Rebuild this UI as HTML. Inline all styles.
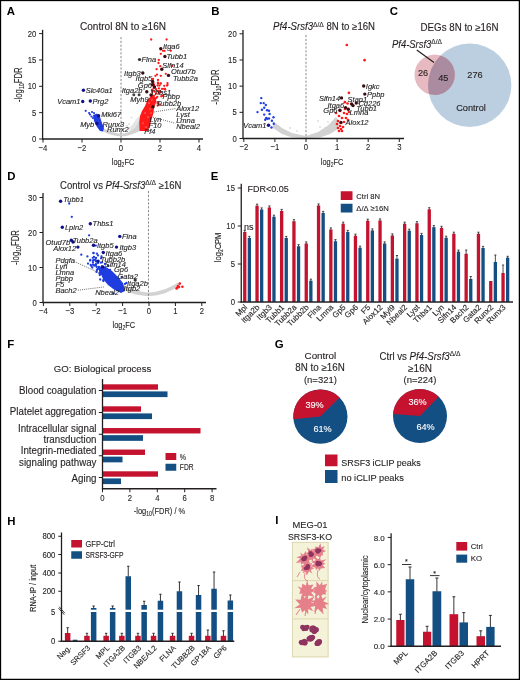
<!DOCTYPE html><html><head><meta charset="utf-8"><style>html,body{margin:0;padding:0;background:#fff;width:520px;height:680px;overflow:hidden}svg{display:block;will-change:transform;font-family:"Liberation Sans",sans-serif}text{stroke:#231f20;stroke-width:0.12px}text[fill="#fff"]{stroke:#fff}text[fill="#000"]{stroke:none}</style></head><body><svg width="520" height="680" viewBox="0 0 520 680" font-family="Liberation Sans, sans-serif" fill="#231f20"><rect x="0.5" y="0.5" width="518.9" height="678.9" fill="none" stroke="#000" stroke-width="1.3"/>
<text x="6.8" y="15.1" font-size="11.4" font-weight="bold" fill="#000">A</text>
<polygon points="125,131 132,125 137,118 140,116 140,126 134,130" fill="#e6e6e6"/>
<path d="M102,128 C108,130.5 114,133 121,133.8 C126,133.5 131,131 135,127.7 C137,125.5 139,121 140,118 L139.8,131 C136,133 133,134 131,134.4 C127,135.8 124,136.3 121,136.4 C116,136.2 112,135.2 110,134.3 C106,133 104,132 101.7,131 Z" fill="#d2d2d2"/>
<circle cx="131.5" cy="117.4" r="0.9" fill="#dadada"/>
<circle cx="127" cy="126" r="0.9" fill="#dadada"/>
<circle cx="129" cy="124" r="0.9" fill="#dadada"/>
<circle cx="116" cy="128" r="0.9" fill="#dadada"/>
<polygon points="139.5,131 139.3,122 140,116 142,111 145,106 147,101 150,97 153,95 156,98 155.5,104 154,108 153.5,113 152,118 150,125 148,131" fill="#ff1a1a"/>
<circle cx="149" cy="103" r="0.6" fill="#ffd0d0"/>
<circle cx="152" cy="100" r="0.6" fill="#ffd0d0"/>
<circle cx="150" cy="109" r="0.6" fill="#ffd0d0"/>
<circle cx="145" cy="113" r="0.6" fill="#ffd0d0"/>
<circle cx="148" cy="117" r="0.6" fill="#ffd0d0"/>
<circle cx="143" cy="123" r="0.6" fill="#ffd0d0"/>
<circle cx="146" cy="127" r="0.6" fill="#ffd0d0"/>
<circle cx="151" cy="113" r="0.6" fill="#ffd0d0"/>
<circle cx="153.12" cy="85.62" r="1.15" fill="#ff1a1a"/>
<circle cx="160.32" cy="83.74" r="1.15" fill="#ff1a1a"/>
<circle cx="157.79" cy="90.78" r="1.15" fill="#ff1a1a"/>
<circle cx="155.34" cy="101.84" r="1.15" fill="#ff1a1a"/>
<circle cx="159.8" cy="104.75" r="1.15" fill="#ff1a1a"/>
<circle cx="158.7" cy="91.52" r="1.15" fill="#ff1a1a"/>
<circle cx="167.48" cy="83.12" r="1.15" fill="#ff1a1a"/>
<circle cx="164.89" cy="88.95" r="1.15" fill="#ff1a1a"/>
<circle cx="152.79" cy="101.59" r="1.15" fill="#ff1a1a"/>
<circle cx="160.06" cy="90.94" r="1.15" fill="#ff1a1a"/>
<circle cx="158.05" cy="83.51" r="1.15" fill="#ff1a1a"/>
<circle cx="160.97" cy="92.26" r="1.15" fill="#ff1a1a"/>
<circle cx="152.91" cy="96.05" r="1.15" fill="#ff1a1a"/>
<circle cx="155.97" cy="89.19" r="1.15" fill="#ff1a1a"/>
<circle cx="151.37" cy="95.79" r="1.15" fill="#ff1a1a"/>
<circle cx="157.55" cy="103" r="1.15" fill="#ff1a1a"/>
<circle cx="162.05" cy="88.91" r="1.15" fill="#ff1a1a"/>
<circle cx="167.56" cy="84.83" r="1.15" fill="#ff1a1a"/>
<circle cx="155.2" cy="100.17" r="1.15" fill="#ff1a1a"/>
<circle cx="162.82" cy="95.75" r="1.15" fill="#ff1a1a"/>
<circle cx="165.26" cy="89.53" r="1.15" fill="#ff1a1a"/>
<circle cx="161.3" cy="96.26" r="1.15" fill="#ff1a1a"/>
<circle cx="158.76" cy="92.95" r="1.15" fill="#ff1a1a"/>
<circle cx="156.43" cy="97.94" r="1.15" fill="#ff1a1a"/>
<circle cx="164.08" cy="88.83" r="1.15" fill="#ff1a1a"/>
<circle cx="154.49" cy="98.05" r="1.15" fill="#ff1a1a"/>
<circle cx="154.6" cy="102.91" r="1.15" fill="#ff1a1a"/>
<circle cx="158.09" cy="103.2" r="1.15" fill="#ff1a1a"/>
<circle cx="152.13" cy="91.97" r="1.15" fill="#ff1a1a"/>
<circle cx="153.89" cy="103.22" r="1.15" fill="#ff1a1a"/>
<circle cx="167.07" cy="85.62" r="1.15" fill="#ff1a1a"/>
<circle cx="158.96" cy="88.31" r="1.15" fill="#ff1a1a"/>
<circle cx="154.12" cy="95.59" r="1.15" fill="#ff1a1a"/>
<circle cx="157.34" cy="96.82" r="1.15" fill="#ff1a1a"/>
<circle cx="160.88" cy="83.3" r="1.15" fill="#ff1a1a"/>
<circle cx="154.63" cy="91.58" r="1.15" fill="#ff1a1a"/>
<circle cx="153.48" cy="83.26" r="1.15" fill="#ff1a1a"/>
<circle cx="159.51" cy="85.57" r="1.15" fill="#ff1a1a"/>
<circle cx="154.01" cy="84.95" r="1.15" fill="#ff1a1a"/>
<circle cx="156.25" cy="93.61" r="1.15" fill="#ff1a1a"/>
<circle cx="153.54" cy="88.35" r="1.15" fill="#ff1a1a"/>
<circle cx="164.23" cy="85.87" r="1.15" fill="#ff1a1a"/>
<circle cx="157.62" cy="85.52" r="1.15" fill="#ff1a1a"/>
<circle cx="157.95" cy="82.65" r="1.15" fill="#ff1a1a"/>
<circle cx="157.62" cy="105.48" r="1.15" fill="#ff1a1a"/>
<circle cx="151.2" cy="39.5" r="1.15" fill="#ff1a1a"/>
<circle cx="166.6" cy="39.5" r="1.15" fill="#ff1a1a"/>
<circle cx="160.8" cy="53.8" r="1.15" fill="#ff1a1a"/>
<circle cx="163" cy="50.8" r="1.15" fill="#ff1a1a"/>
<circle cx="164.6" cy="50.8" r="1.15" fill="#ff1a1a"/>
<circle cx="170.8" cy="50.8" r="1.15" fill="#ff1a1a"/>
<circle cx="158.8" cy="60" r="1.15" fill="#ff1a1a"/>
<circle cx="158.5" cy="63" r="1.15" fill="#ff1a1a"/>
<circle cx="160.3" cy="66.2" r="1.15" fill="#ff1a1a"/>
<circle cx="156.6" cy="69.2" r="1.15" fill="#ff1a1a"/>
<circle cx="172.3" cy="65.8" r="1.15" fill="#ff1a1a"/>
<circle cx="165.8" cy="73.8" r="1.15" fill="#ff1a1a"/>
<circle cx="157" cy="74.6" r="1.15" fill="#ff1a1a"/>
<circle cx="160.8" cy="75.8" r="1.15" fill="#ff1a1a"/>
<circle cx="155.4" cy="75.8" r="1.15" fill="#ff1a1a"/>
<circle cx="158" cy="80" r="1.15" fill="#ff1a1a"/>
<circle cx="153" cy="79" r="1.15" fill="#ff1a1a"/>
<circle cx="152" cy="85" r="1.15" fill="#ff1a1a"/>
<circle cx="152" cy="90" r="1.15" fill="#ff1a1a"/>
<polygon points="93,115 97,113.5 100,117 102,123 104,128 103,131.5 100,131 97,127 94,121" fill="#1f3de0"/>
<circle cx="85.7" cy="110.8" r="1.1" fill="#1f3de0"/>
<circle cx="89.1" cy="113" r="1.1" fill="#1f3de0"/>
<circle cx="90" cy="114.5" r="1.1" fill="#1f3de0"/>
<circle cx="92" cy="112" r="1.1" fill="#1f3de0"/>
<circle cx="91.5" cy="116.5" r="1.1" fill="#1f3de0"/>
<circle cx="94" cy="113" r="1.1" fill="#1f3de0"/>
<circle cx="93" cy="118" r="1.1" fill="#1f3de0"/>
<circle cx="160.8" cy="48.8" r="1.7" fill="#3b0d12"/>
<circle cx="164.9" cy="56.5" r="1.7" fill="#3b0d12"/>
<circle cx="161.8" cy="69.2" r="1.7" fill="#3b0d12"/>
<circle cx="168.5" cy="75.4" r="1.7" fill="#3b0d12"/>
<circle cx="142.8" cy="73" r="1.7" fill="#3b0d12"/>
<circle cx="152.6" cy="81.5" r="1.7" fill="#3b0d12"/>
<circle cx="152.6" cy="84.6" r="1.7" fill="#3b0d12"/>
<circle cx="146.8" cy="91.8" r="1.7" fill="#3b0d12"/>
<circle cx="153" cy="106.7" r="1.7" fill="#3b0d12"/>
<circle cx="154.5" cy="87" r="1.7" fill="#3b0d12"/>
<circle cx="151" cy="95" r="1.7" fill="#3b0d12"/>
<circle cx="139.5" cy="59.5" r="1.6" fill="#333"/>
<circle cx="133.8" cy="94.7" r="1.5" fill="#444"/>
<circle cx="139.1" cy="94.7" r="1.5" fill="#444"/>
<circle cx="83.4" cy="90.2" r="1.7" fill="#10108a"/>
<circle cx="82.7" cy="101.5" r="1.7" fill="#10108a"/>
<circle cx="90.3" cy="101" r="1.7" fill="#10108a"/>
<circle cx="98.6" cy="115.7" r="1.7" fill="#10108a"/>
<circle cx="96.9" cy="123.5" r="1.7" fill="#10108a"/>
<line x1="121" y1="37" x2="121" y2="139" stroke="#8a8a8a" stroke-width="1" stroke-dasharray="2.2,1.6"/>
<line x1="42.6" y1="29.8" x2="42.6" y2="139.6" stroke="#231f20" stroke-width="1.3"/>
<line x1="42" y1="139" x2="203" y2="139" stroke="#231f20" stroke-width="1.3"/>
<line x1="39.1" y1="139" x2="42.6" y2="139" stroke="#231f20" stroke-width="1"/>
<text x="36.3" y="142.15" font-size="9.2" text-anchor="end" textLength="4.3" lengthAdjust="spacingAndGlyphs">0</text>
<line x1="39.1" y1="112.65" x2="42.6" y2="112.65" stroke="#231f20" stroke-width="1"/>
<text x="36.3" y="115.8" font-size="9.2" text-anchor="end" textLength="4.3" lengthAdjust="spacingAndGlyphs">5</text>
<line x1="39.1" y1="86.3" x2="42.6" y2="86.3" stroke="#231f20" stroke-width="1"/>
<text x="36.3" y="89.45" font-size="9.2" text-anchor="end" textLength="8.6" lengthAdjust="spacingAndGlyphs">10</text>
<line x1="39.1" y1="59.95" x2="42.6" y2="59.95" stroke="#231f20" stroke-width="1"/>
<text x="36.3" y="63.1" font-size="9.2" text-anchor="end" textLength="8.6" lengthAdjust="spacingAndGlyphs">15</text>
<line x1="39.1" y1="33.6" x2="42.6" y2="33.6" stroke="#231f20" stroke-width="1"/>
<text x="36.3" y="36.75" font-size="9.2" text-anchor="end" textLength="8.6" lengthAdjust="spacingAndGlyphs">20</text>
<line x1="43" y1="139" x2="43" y2="142.5" stroke="#231f20" stroke-width="1"/>
<text x="43" y="150.9" font-size="9.2" text-anchor="middle" textLength="8.81" lengthAdjust="spacingAndGlyphs">−4</text>
<line x1="82" y1="139" x2="82" y2="142.5" stroke="#231f20" stroke-width="1"/>
<text x="82" y="150.9" font-size="9.2" text-anchor="middle" textLength="8.81" lengthAdjust="spacingAndGlyphs">−2</text>
<line x1="121" y1="139" x2="121" y2="142.5" stroke="#231f20" stroke-width="1"/>
<text x="121" y="150.9" font-size="9.2" text-anchor="middle" textLength="4.3" lengthAdjust="spacingAndGlyphs">0</text>
<line x1="160" y1="139" x2="160" y2="142.5" stroke="#231f20" stroke-width="1"/>
<text x="160" y="150.9" font-size="9.2" text-anchor="middle" textLength="4.3" lengthAdjust="spacingAndGlyphs">2</text>
<line x1="199" y1="139" x2="199" y2="142.5" stroke="#231f20" stroke-width="1"/>
<text x="199" y="150.9" font-size="9.2" text-anchor="middle" textLength="4.3" lengthAdjust="spacingAndGlyphs">4</text>
<text x="123" y="30.4" font-size="10" text-anchor="middle" textLength="86" lengthAdjust="spacingAndGlyphs">Control 8N to ≥16N</text>
<text transform="translate(22 84.7) rotate(-90)" font-size="10" text-anchor="middle" textLength="34.5" lengthAdjust="spacingAndGlyphs">-log<tspan font-size="6.8" dy="2">10</tspan><tspan dy="-2">FDR</tspan></text>
<text x="123" y="164.5" font-size="9.6" text-anchor="middle" textLength="22.5" lengthAdjust="spacingAndGlyphs">log<tspan font-size="6.53" dy="2">2</tspan><tspan dy="-2">FC</tspan></text>
<g stroke="#1e1e1e" stroke-width="0.22" fill="#1e1e1e">
<text x="163" y="48.8" font-size="7.5" font-style="italic">Itga6</text>
<text x="166.5" y="59.1" font-size="7.5" font-style="italic">Tubb1</text>
<text x="141.5" y="62.1" font-size="7.5" font-style="italic">Flna</text>
<text x="162.3" y="68.4" font-size="7.5" font-style="italic">Slfn14</text>
<text x="171" y="74.4" font-size="7.5" font-style="italic">Otud7b</text>
<text x="173" y="81.1" font-size="7.5" font-style="italic">Tubb2a</text>
<text x="140.8" y="75.6" font-size="7.5" text-anchor="end" font-style="italic">Itgb3</text>
<text x="152.3" y="80.8" font-size="7.5" text-anchor="end" font-style="italic">Itgb5</text>
<text x="152" y="87.6" font-size="7.5" text-anchor="end" font-style="italic">Gp6</text>
<text x="142.5" y="93.3" font-size="7.5" text-anchor="end" font-style="italic">Itga2b</text>
<text x="150.3" y="94.7" font-size="7.5" font-style="italic">Thbs1</text>
<text x="162.4" y="99.4" font-size="7.5" font-style="italic">Ppbp</text>
<text x="148.6" y="101.6" font-size="7.5" text-anchor="end" font-style="italic">Myh9</text>
<text x="156.3" y="106" font-size="7.5" font-style="italic">Tubb2b</text>
<text x="176.2" y="110.6" font-size="7.5" font-style="italic">Alox12</text>
<text x="176.2" y="116.9" font-size="7.5" font-style="italic">Lyst</text>
<text x="176.2" y="122.9" font-size="7.5" font-style="italic">Lmna</text>
<text x="176.2" y="128.5" font-size="7.5" font-style="italic">Nbeal2</text>
<text x="149.4" y="121.6" font-size="7.5" font-style="italic">Lyn</text>
<text x="148.6" y="127.9" font-size="7.5" font-style="italic">F10</text>
<text x="144.2" y="134.2" font-size="7.5" font-style="italic">Pf4</text>
<text x="85.7" y="92.8" font-size="7.5" font-style="italic">Slc40a1</text>
<text x="80.5" y="104.1" font-size="7.5" text-anchor="end" font-style="italic">Vcam1</text>
<text x="92.6" y="103.6" font-size="7.5" font-style="italic">Prg2</text>
<text x="101.2" y="117.1" font-size="7.5" font-style="italic">Mki67</text>
<text x="94.3" y="126.9" font-size="7.5" text-anchor="end" font-style="italic">Myb</text>
<text x="102.6" y="126.9" font-size="7.5" font-style="italic">Runx3</text>
<text x="107" y="132.1" font-size="7.5" font-style="italic">Runx2</text>
</g>
<line x1="153.7" y1="112" x2="176" y2="108.5" stroke="#444" stroke-width="0.8" stroke-dasharray="1,1.1"/>
<line x1="152.9" y1="117.2" x2="175.4" y2="123.3" stroke="#444" stroke-width="0.8" stroke-dasharray="1,1.1"/>
<text x="211.2" y="15.2" font-size="11.4" font-weight="bold" fill="#000">B</text>
<polygon points="273,121 282,128 292,133 306,136 318,132 328,125.5 336,117 339,121 338,129 330,134 320,137.5 306,138.2 292,137.5 282,134 273,128" fill="#d2d2d2"/>
<circle cx="318" cy="121" r="0.9" fill="#dadada"/>
<circle cx="320" cy="127" r="0.9" fill="#dadada"/>
<circle cx="325" cy="128" r="0.9" fill="#dadada"/>
<circle cx="328" cy="122" r="0.9" fill="#dadada"/>
<circle cx="290" cy="128" r="0.9" fill="#dadada"/>
<circle cx="297" cy="131" r="0.9" fill="#dadada"/>
<circle cx="261.3" cy="98.1" r="1.2" fill="#1f3de0"/>
<circle cx="260.8" cy="103.1" r="1.2" fill="#1f3de0"/>
<circle cx="263.7" cy="103.1" r="1.2" fill="#1f3de0"/>
<circle cx="265.8" cy="105" r="1.2" fill="#1f3de0"/>
<circle cx="264.2" cy="107.7" r="1.2" fill="#1f3de0"/>
<circle cx="261.9" cy="109.8" r="1.2" fill="#1f3de0"/>
<circle cx="257.5" cy="112.1" r="1.2" fill="#1f3de0"/>
<circle cx="267.1" cy="110.2" r="1.2" fill="#1f3de0"/>
<circle cx="269" cy="110.8" r="1.2" fill="#1f3de0"/>
<circle cx="264.2" cy="114.6" r="1.2" fill="#1f3de0"/>
<circle cx="269.6" cy="114" r="1.2" fill="#1f3de0"/>
<circle cx="266.2" cy="117.9" r="1.2" fill="#1f3de0"/>
<circle cx="269" cy="118.5" r="1.2" fill="#1f3de0"/>
<circle cx="273.5" cy="117.3" r="1.2" fill="#1f3de0"/>
<circle cx="271.9" cy="120.8" r="1.2" fill="#1f3de0"/>
<circle cx="273.8" cy="123.7" r="1.2" fill="#1f3de0"/>
<circle cx="271.5" cy="127.5" r="1.2" fill="#1f3de0"/>
<circle cx="265.2" cy="119.8" r="1.2" fill="#1f3de0"/>
<circle cx="267.1" cy="118.8" r="1.2" fill="#1f3de0"/>
<circle cx="268.5" cy="125.2" r="1.7" fill="#10108a"/>
<circle cx="346.8" cy="45" r="1.35" fill="#ff1a1a"/>
<circle cx="364.6" cy="60.2" r="1.35" fill="#ff1a1a"/>
<circle cx="348.9" cy="92.8" r="1.35" fill="#ff1a1a"/>
<circle cx="344.9" cy="102.2" r="1.35" fill="#ff1a1a"/>
<circle cx="347.6" cy="103.5" r="1.35" fill="#ff1a1a"/>
<circle cx="340" cy="111" r="1.35" fill="#ff1a1a"/>
<circle cx="344" cy="113" r="1.35" fill="#ff1a1a"/>
<circle cx="347" cy="114" r="1.35" fill="#ff1a1a"/>
<circle cx="342" cy="118" r="1.35" fill="#ff1a1a"/>
<circle cx="346" cy="118" r="1.35" fill="#ff1a1a"/>
<circle cx="338" cy="121" r="1.35" fill="#ff1a1a"/>
<circle cx="341" cy="123" r="1.35" fill="#ff1a1a"/>
<circle cx="344" cy="122" r="1.35" fill="#ff1a1a"/>
<circle cx="340" cy="126" r="1.35" fill="#ff1a1a"/>
<circle cx="343" cy="127" r="1.35" fill="#ff1a1a"/>
<circle cx="338" cy="128" r="1.35" fill="#ff1a1a"/>
<circle cx="341" cy="129" r="1.35" fill="#ff1a1a"/>
<circle cx="337" cy="124" r="1.35" fill="#ff1a1a"/>
<circle cx="339" cy="116" r="1.35" fill="#ff1a1a"/>
<circle cx="349" cy="112" r="1.35" fill="#ff1a1a"/>
<circle cx="345" cy="109" r="1.35" fill="#ff1a1a"/>
<circle cx="339" cy="131" r="1.35" fill="#ff1a1a"/>
<circle cx="342" cy="131" r="1.35" fill="#ff1a1a"/>
<circle cx="348" cy="120" r="1.35" fill="#ff1a1a"/>
<circle cx="336" cy="113" r="1.35" fill="#ff1a1a"/>
<circle cx="363.7" cy="86" r="1.7" fill="#3b0d12"/>
<circle cx="364.8" cy="94.1" r="1.7" fill="#3b0d12"/>
<circle cx="341.5" cy="97.9" r="1.7" fill="#3b0d12"/>
<circle cx="351.6" cy="104" r="1.7" fill="#3b0d12"/>
<circle cx="353" cy="105.6" r="1.7" fill="#3b0d12"/>
<circle cx="356.3" cy="103.1" r="1.7" fill="#3b0d12"/>
<circle cx="339.9" cy="110.3" r="1.7" fill="#3b0d12"/>
<circle cx="345.6" cy="107.6" r="1.7" fill="#3b0d12"/>
<circle cx="348.3" cy="109.3" r="1.7" fill="#3b0d12"/>
<circle cx="340.9" cy="122.4" r="1.7" fill="#3b0d12"/>
<line x1="306" y1="35" x2="306" y2="138.5" stroke="#8a8a8a" stroke-width="1" stroke-dasharray="2.2,1.6"/>
<line x1="243" y1="30" x2="243" y2="139.1" stroke="#231f20" stroke-width="1.3"/>
<line x1="242.4" y1="138.5" x2="404" y2="138.5" stroke="#231f20" stroke-width="1.3"/>
<line x1="239.5" y1="138.5" x2="243" y2="138.5" stroke="#231f20" stroke-width="1"/>
<text x="236.7" y="141.65" font-size="9.2" text-anchor="end" textLength="4.3" lengthAdjust="spacingAndGlyphs">0</text>
<line x1="239.5" y1="112.33" x2="243" y2="112.33" stroke="#231f20" stroke-width="1"/>
<text x="236.7" y="115.48" font-size="9.2" text-anchor="end" textLength="4.3" lengthAdjust="spacingAndGlyphs">5</text>
<line x1="239.5" y1="86.15" x2="243" y2="86.15" stroke="#231f20" stroke-width="1"/>
<text x="236.7" y="89.3" font-size="9.2" text-anchor="end" textLength="8.6" lengthAdjust="spacingAndGlyphs">10</text>
<line x1="239.5" y1="59.97" x2="243" y2="59.97" stroke="#231f20" stroke-width="1"/>
<text x="236.7" y="63.12" font-size="9.2" text-anchor="end" textLength="8.6" lengthAdjust="spacingAndGlyphs">15</text>
<line x1="239.5" y1="33.8" x2="243" y2="33.8" stroke="#231f20" stroke-width="1"/>
<text x="236.7" y="36.95" font-size="9.2" text-anchor="end" textLength="8.6" lengthAdjust="spacingAndGlyphs">20</text>
<line x1="243.8" y1="138.5" x2="243.8" y2="142" stroke="#231f20" stroke-width="1"/>
<text x="243.8" y="150.4" font-size="9.2" text-anchor="middle" textLength="8.81" lengthAdjust="spacingAndGlyphs">−2</text>
<line x1="274.9" y1="138.5" x2="274.9" y2="142" stroke="#231f20" stroke-width="1"/>
<text x="274.9" y="150.4" font-size="9.2" text-anchor="middle" textLength="8.81" lengthAdjust="spacingAndGlyphs">−1</text>
<line x1="306" y1="138.5" x2="306" y2="142" stroke="#231f20" stroke-width="1"/>
<text x="306" y="150.4" font-size="9.2" text-anchor="middle" textLength="4.3" lengthAdjust="spacingAndGlyphs">0</text>
<line x1="337.1" y1="138.5" x2="337.1" y2="142" stroke="#231f20" stroke-width="1"/>
<text x="337.1" y="150.4" font-size="9.2" text-anchor="middle" textLength="4.3" lengthAdjust="spacingAndGlyphs">1</text>
<line x1="368.2" y1="138.5" x2="368.2" y2="142" stroke="#231f20" stroke-width="1"/>
<text x="368.2" y="150.4" font-size="9.2" text-anchor="middle" textLength="4.3" lengthAdjust="spacingAndGlyphs">2</text>
<line x1="399.3" y1="138.5" x2="399.3" y2="142" stroke="#231f20" stroke-width="1"/>
<text x="399.3" y="150.4" font-size="9.2" text-anchor="middle" textLength="4.3" lengthAdjust="spacingAndGlyphs">3</text>
<text x="273" y="30.4" font-size="10" textLength="102" lengthAdjust="spacingAndGlyphs"><tspan font-style="italic">Pf4-Srsf3</tspan><tspan font-size="7" dy="-3.8">Δ/Δ</tspan><tspan dy="3.8"> 8N to ≥16N</tspan></text>
<text transform="translate(218.6 86.9) rotate(-90)" font-size="10" text-anchor="middle" textLength="35" lengthAdjust="spacingAndGlyphs">-log<tspan font-size="6.8" dy="2">10</tspan><tspan dy="-2">FDR</tspan></text>
<text x="332.1" y="164.6" font-size="9.6" text-anchor="middle" textLength="22.5" lengthAdjust="spacingAndGlyphs">log<tspan font-size="6.53" dy="2">2</tspan><tspan dy="-2">FC</tspan></text>
<g stroke="#1e1e1e" stroke-width="0.22" fill="#1e1e1e">
<text x="365.8" y="88.6" font-size="7.5" font-style="italic">Igkc</text>
<text x="367" y="96.6" font-size="7.5" font-style="italic">Ppbp</text>
<text x="340.2" y="100.5" font-size="7.5" text-anchor="end" font-style="italic">Slfn14</text>
<text x="347.6" y="102.1" font-size="7.5" font-style="italic">Stap1</text>
<text x="358.4" y="106.1" font-size="7.5" font-style="italic">Cd226</text>
<text x="344.2" y="107.5" font-size="7.5" text-anchor="end" font-style="italic">Itga6</text>
<text x="356.3" y="110.9" font-size="7.5" font-style="italic">Tubb1</text>
<text x="337.5" y="112.9" font-size="7.5" text-anchor="end" font-style="italic">Gp6</text>
<text x="349.6" y="115.3" font-size="7.5" font-style="italic">Lmna</text>
<text x="345.6" y="125" font-size="7.5" font-style="italic">Alox12</text>
<text x="266.5" y="127.8" font-size="7.5" text-anchor="end" font-style="italic">Vcam1</text>
</g>
<text x="389.7" y="15.3" font-size="11.4" font-weight="bold" fill="#000">C</text>
<text x="459.5" y="30.6" font-size="10" text-anchor="middle" textLength="78" lengthAdjust="spacingAndGlyphs">DEGs 8N to ≥16N</text>
<circle cx="469.7" cy="85.2" r="41.7" fill="#bccfe0"/>
<circle cx="434.7" cy="74.8" r="20.2" fill="#e7b9c1"/>
<clipPath id="cc"><circle cx="469.7" cy="85.2" r="41.7"/></clipPath>
<circle cx="434.7" cy="74.8" r="20.2" fill="#ab8ba0" clip-path="url(#cc)"/>
<text x="423" y="76" font-size="9.2" text-anchor="middle">26</text>
<text x="443.3" y="81.3" font-size="9.2" text-anchor="middle">45</text>
<text x="475" y="78.2" font-size="9.2" text-anchor="middle">276</text>
<text x="471" y="111" font-size="9.2" text-anchor="middle">Control</text>
<text x="392" y="47.8" font-size="10" textLength="50" lengthAdjust="spacingAndGlyphs"><tspan font-style="italic">Pf4-Srsf3</tspan><tspan font-size="7" dy="-3.8">Δ/Δ</tspan></text>
<line x1="416.8" y1="50" x2="434" y2="62.5" stroke="#231f20" stroke-width="1.2"/>
<text x="7.2" y="179.5" font-size="11.4" font-weight="bold" fill="#000">D</text>
<path d="M122,289 C132,294 140,296 149,296 C160,296 170,292 180,285 L178,282.5 C168,289 158,292 149,292.5 C140,292.5 130,289 121,283 Z" fill="#d2d2d2"/>
<polygon points="101,265 106,267 112,271 118,277 123,283 125,291 121,293 114,289.5 108,285 103,279 100,272" fill="#1f3de0"/>
<circle cx="69.2" cy="203.5" r="1.15" fill="#1f3de0"/>
<circle cx="71.8" cy="216.8" r="1.15" fill="#1f3de0"/>
<circle cx="89.1" cy="235.3" r="1.15" fill="#1f3de0"/>
<circle cx="93.5" cy="245.7" r="1.15" fill="#1f3de0"/>
<circle cx="81.3" cy="254.7" r="1.15" fill="#1f3de0"/>
<circle cx="87.4" cy="256.4" r="1.15" fill="#1f3de0"/>
<circle cx="93.5" cy="253" r="1.15" fill="#1f3de0"/>
<circle cx="90.3" cy="259.9" r="1.15" fill="#1f3de0"/>
<circle cx="90" cy="260.6" r="1.15" fill="#1f3de0"/>
<circle cx="92.9" cy="262.3" r="1.15" fill="#1f3de0"/>
<circle cx="92.3" cy="267.5" r="1.15" fill="#1f3de0"/>
<circle cx="95.8" cy="265.2" r="1.15" fill="#1f3de0"/>
<circle cx="98.6" cy="268.6" r="1.15" fill="#1f3de0"/>
<circle cx="99.8" cy="275" r="1.15" fill="#1f3de0"/>
<circle cx="103.3" cy="280.2" r="1.15" fill="#1f3de0"/>
<circle cx="93.5" cy="253.1" r="1.15" fill="#1f3de0"/>
<circle cx="96.9" cy="253.7" r="1.15" fill="#1f3de0"/>
<circle cx="98" cy="255.4" r="1.15" fill="#1f3de0"/>
<circle cx="101.5" cy="256.5" r="1.15" fill="#1f3de0"/>
<circle cx="101" cy="258.3" r="1.15" fill="#1f3de0"/>
<circle cx="95.8" cy="245.6" r="1.15" fill="#1f3de0"/>
<circle cx="102.1" cy="262.3" r="1.15" fill="#1f3de0"/>
<circle cx="95.8" cy="264.6" r="1.15" fill="#1f3de0"/>
<circle cx="97" cy="270" r="1.15" fill="#1f3de0"/>
<circle cx="100" cy="271" r="1.15" fill="#1f3de0"/>
<circle cx="98" cy="263" r="1.15" fill="#1f3de0"/>
<circle cx="105" cy="264" r="1.15" fill="#1f3de0"/>
<circle cx="108" cy="266" r="1.15" fill="#1f3de0"/>
<circle cx="96" cy="258" r="1.15" fill="#1f3de0"/>
<circle cx="94" cy="257" r="1.15" fill="#1f3de0"/>
<circle cx="110" cy="270" r="1.15" fill="#1f3de0"/>
<circle cx="103.41" cy="280.98" r="1.15" fill="#1f3de0"/>
<circle cx="106.8" cy="278.02" r="1.15" fill="#1f3de0"/>
<circle cx="108.7" cy="278.39" r="1.15" fill="#1f3de0"/>
<circle cx="109.31" cy="277.95" r="1.15" fill="#1f3de0"/>
<circle cx="113.56" cy="279.7" r="1.15" fill="#1f3de0"/>
<circle cx="102.6" cy="272.24" r="1.15" fill="#1f3de0"/>
<circle cx="95.85" cy="261.36" r="1.15" fill="#1f3de0"/>
<circle cx="88.01" cy="263.62" r="1.15" fill="#1f3de0"/>
<circle cx="124.95" cy="283.97" r="1.15" fill="#1f3de0"/>
<circle cx="112.16" cy="280.49" r="1.15" fill="#1f3de0"/>
<circle cx="100.74" cy="262.72" r="1.15" fill="#1f3de0"/>
<circle cx="92.9" cy="260.77" r="1.15" fill="#1f3de0"/>
<circle cx="99.33" cy="267.16" r="1.15" fill="#1f3de0"/>
<circle cx="109.29" cy="275.18" r="1.15" fill="#1f3de0"/>
<circle cx="109.57" cy="273.46" r="1.15" fill="#1f3de0"/>
<circle cx="111.18" cy="282.87" r="1.15" fill="#1f3de0"/>
<circle cx="108.39" cy="278.26" r="1.15" fill="#1f3de0"/>
<circle cx="100.5" cy="272.76" r="1.15" fill="#1f3de0"/>
<circle cx="126.44" cy="283" r="1.15" fill="#1f3de0"/>
<circle cx="115.14" cy="281.95" r="1.15" fill="#1f3de0"/>
<circle cx="104.26" cy="271.24" r="1.15" fill="#1f3de0"/>
<circle cx="95.24" cy="259.58" r="1.15" fill="#1f3de0"/>
<circle cx="113.01" cy="287.19" r="1.15" fill="#1f3de0"/>
<circle cx="109.01" cy="270.72" r="1.15" fill="#1f3de0"/>
<circle cx="121.13" cy="287.11" r="1.15" fill="#1f3de0"/>
<circle cx="100.04" cy="268" r="1.15" fill="#1f3de0"/>
<circle cx="113.57" cy="293.32" r="1.15" fill="#1f3de0"/>
<circle cx="107.93" cy="272.61" r="1.15" fill="#1f3de0"/>
<circle cx="90.69" cy="264.95" r="1.15" fill="#1f3de0"/>
<circle cx="99.44" cy="273.3" r="1.15" fill="#1f3de0"/>
<circle cx="91.33" cy="265.95" r="1.15" fill="#1f3de0"/>
<circle cx="121.74" cy="277.15" r="1.15" fill="#1f3de0"/>
<circle cx="96.01" cy="264.13" r="1.15" fill="#1f3de0"/>
<circle cx="93.73" cy="259.9" r="1.15" fill="#1f3de0"/>
<circle cx="118.74" cy="282.34" r="1.15" fill="#1f3de0"/>
<circle cx="110.92" cy="272.39" r="1.15" fill="#1f3de0"/>
<circle cx="99.18" cy="267.37" r="1.15" fill="#1f3de0"/>
<circle cx="112.4" cy="281.7" r="1.15" fill="#1f3de0"/>
<circle cx="94.49" cy="265.66" r="1.15" fill="#1f3de0"/>
<circle cx="103.18" cy="269.18" r="1.15" fill="#1f3de0"/>
<circle cx="122.03" cy="286.69" r="1.15" fill="#1f3de0"/>
<circle cx="117.57" cy="287.75" r="1.15" fill="#1f3de0"/>
<circle cx="96.52" cy="271.97" r="1.15" fill="#1f3de0"/>
<circle cx="116.43" cy="277.16" r="1.15" fill="#1f3de0"/>
<circle cx="96.68" cy="261.52" r="1.15" fill="#1f3de0"/>
<circle cx="101.87" cy="269.77" r="1.15" fill="#1f3de0"/>
<circle cx="115.9" cy="284.3" r="1.15" fill="#1f3de0"/>
<circle cx="95.24" cy="259.98" r="1.15" fill="#1f3de0"/>
<circle cx="92.98" cy="264.46" r="1.15" fill="#1f3de0"/>
<circle cx="111.66" cy="280.28" r="1.15" fill="#1f3de0"/>
<circle cx="100.2" cy="279.49" r="1.15" fill="#1f3de0"/>
<circle cx="111" cy="274.45" r="1.15" fill="#1f3de0"/>
<circle cx="112.81" cy="277.57" r="1.15" fill="#1f3de0"/>
<circle cx="96.61" cy="266.97" r="1.15" fill="#1f3de0"/>
<circle cx="120.72" cy="285.34" r="1.15" fill="#1f3de0"/>
<circle cx="97.66" cy="268.96" r="1.15" fill="#1f3de0"/>
<circle cx="117.48" cy="280.94" r="1.15" fill="#1f3de0"/>
<circle cx="120.34" cy="287.63" r="1.15" fill="#1f3de0"/>
<circle cx="117.44" cy="287.77" r="1.15" fill="#1f3de0"/>
<circle cx="93.76" cy="265.12" r="1.15" fill="#1f3de0"/>
<circle cx="92.8" cy="257.83" r="1.15" fill="#1f3de0"/>
<circle cx="114.78" cy="282.19" r="1.15" fill="#1f3de0"/>
<circle cx="103.34" cy="268.04" r="1.15" fill="#1f3de0"/>
<circle cx="100.42" cy="273.93" r="1.15" fill="#1f3de0"/>
<circle cx="98.51" cy="266.8" r="1.15" fill="#1f3de0"/>
<circle cx="99.97" cy="269.57" r="1.15" fill="#1f3de0"/>
<circle cx="113.35" cy="276.14" r="1.15" fill="#1f3de0"/>
<circle cx="100.19" cy="273.24" r="1.15" fill="#1f3de0"/>
<circle cx="120.31" cy="286.2" r="1.15" fill="#1f3de0"/>
<circle cx="102.79" cy="269.56" r="1.15" fill="#1f3de0"/>
<circle cx="177.2" cy="287.9" r="1.3" fill="#ff1a1a"/>
<circle cx="179" cy="287" r="1.3" fill="#ff1a1a"/>
<circle cx="179.8" cy="283.6" r="1.3" fill="#ff1a1a"/>
<circle cx="182.4" cy="286.7" r="1.3" fill="#ff1a1a"/>
<circle cx="178" cy="286" r="1.3" fill="#ff1a1a"/>
<circle cx="176.5" cy="288.5" r="1.3" fill="#ff1a1a"/>
<circle cx="60.6" cy="201.2" r="1.7" fill="#10108a"/>
<circle cx="62.3" cy="227.2" r="1.7" fill="#10108a"/>
<circle cx="90.3" cy="223.7" r="1.7" fill="#10108a"/>
<circle cx="119.8" cy="236.4" r="1.7" fill="#10108a"/>
<circle cx="71.3" cy="240.2" r="1.7" fill="#10108a"/>
<circle cx="73" cy="242" r="1.7" fill="#10108a"/>
<circle cx="77.9" cy="247.1" r="1.7" fill="#10108a"/>
<circle cx="93.5" cy="245.2" r="1.7" fill="#10108a"/>
<circle cx="116.5" cy="247.1" r="1.7" fill="#10108a"/>
<circle cx="103.3" cy="252.5" r="1.7" fill="#10108a"/>
<circle cx="98.1" cy="261.1" r="1.7" fill="#10108a"/>
<circle cx="102.7" cy="266.9" r="1.7" fill="#10108a"/>
<circle cx="135.2" cy="280.1" r="1.6" fill="#333"/>
<line x1="148.5" y1="191" x2="148.5" y2="302.5" stroke="#8a8a8a" stroke-width="1" stroke-dasharray="2.2,1.6"/>
<line x1="43" y1="193" x2="43" y2="303.1" stroke="#231f20" stroke-width="1.3"/>
<line x1="42.4" y1="302.5" x2="206" y2="302.5" stroke="#231f20" stroke-width="1.3"/>
<line x1="39.5" y1="302.5" x2="43" y2="302.5" stroke="#231f20" stroke-width="1"/>
<text x="36.7" y="305.65" font-size="9.2" text-anchor="end" textLength="4.3" lengthAdjust="spacingAndGlyphs">0</text>
<line x1="39.5" y1="267.5" x2="43" y2="267.5" stroke="#231f20" stroke-width="1"/>
<text x="36.7" y="270.65" font-size="9.2" text-anchor="end" textLength="8.6" lengthAdjust="spacingAndGlyphs">10</text>
<line x1="39.5" y1="232.5" x2="43" y2="232.5" stroke="#231f20" stroke-width="1"/>
<text x="36.7" y="235.65" font-size="9.2" text-anchor="end" textLength="8.6" lengthAdjust="spacingAndGlyphs">20</text>
<line x1="39.5" y1="197.5" x2="43" y2="197.5" stroke="#231f20" stroke-width="1"/>
<text x="36.7" y="200.65" font-size="9.2" text-anchor="end" textLength="8.6" lengthAdjust="spacingAndGlyphs">30</text>
<line x1="43.4" y1="302.5" x2="43.4" y2="306" stroke="#231f20" stroke-width="1"/>
<text x="43.4" y="314.4" font-size="9.2" text-anchor="middle" textLength="8.81" lengthAdjust="spacingAndGlyphs">−4</text>
<line x1="69.8" y1="302.5" x2="69.8" y2="306" stroke="#231f20" stroke-width="1"/>
<text x="69.8" y="314.4" font-size="9.2" text-anchor="middle" textLength="8.81" lengthAdjust="spacingAndGlyphs">−3</text>
<line x1="96.2" y1="302.5" x2="96.2" y2="306" stroke="#231f20" stroke-width="1"/>
<text x="96.2" y="314.4" font-size="9.2" text-anchor="middle" textLength="8.81" lengthAdjust="spacingAndGlyphs">−2</text>
<line x1="122.6" y1="302.5" x2="122.6" y2="306" stroke="#231f20" stroke-width="1"/>
<text x="122.6" y="314.4" font-size="9.2" text-anchor="middle" textLength="8.81" lengthAdjust="spacingAndGlyphs">−1</text>
<line x1="149" y1="302.5" x2="149" y2="306" stroke="#231f20" stroke-width="1"/>
<text x="149" y="314.4" font-size="9.2" text-anchor="middle" textLength="4.3" lengthAdjust="spacingAndGlyphs">0</text>
<line x1="175.4" y1="302.5" x2="175.4" y2="306" stroke="#231f20" stroke-width="1"/>
<text x="175.4" y="314.4" font-size="9.2" text-anchor="middle" textLength="4.3" lengthAdjust="spacingAndGlyphs">1</text>
<line x1="201.8" y1="302.5" x2="201.8" y2="306" stroke="#231f20" stroke-width="1"/>
<text x="201.8" y="314.4" font-size="9.2" text-anchor="middle" textLength="4.3" lengthAdjust="spacingAndGlyphs">2</text>
<text x="60" y="188.6" font-size="10" textLength="121.4" lengthAdjust="spacingAndGlyphs">Control vs <tspan font-style="italic">Pf4-Srsf3</tspan><tspan font-size="7" dy="-3.8">Δ/Δ</tspan><tspan dy="3.8"> ≥16N</tspan></text>
<text transform="translate(19.2 247.4) rotate(-90)" font-size="10" text-anchor="middle" textLength="34.6" lengthAdjust="spacingAndGlyphs">-log<tspan font-size="6.8" dy="2">10</tspan><tspan dy="-2">FDR</tspan></text>
<text x="123.85" y="328.1" font-size="9.6" text-anchor="middle" textLength="22.5" lengthAdjust="spacingAndGlyphs">log<tspan font-size="6.53" dy="2">2</tspan><tspan dy="-2">FC</tspan></text>
<g stroke="#1e1e1e" stroke-width="0.22" fill="#1e1e1e">
<text x="63.2" y="202.1" font-size="7.5" font-style="italic">Tubb1</text>
<text x="64.9" y="229.8" font-size="7.5" font-style="italic">Lpin2</text>
<text x="92.6" y="226.3" font-size="7.5" font-style="italic">Thbs1</text>
<text x="122" y="239" font-size="7.5" font-style="italic">Flna</text>
<text x="70.1" y="244.5" font-size="7.5" text-anchor="end" font-style="italic">Otud7b</text>
<text x="72.7" y="242.8" font-size="7.5" font-style="italic">Tubb2a</text>
<text x="96.9" y="247.8" font-size="7.5" font-style="italic">Itgb5</text>
<text x="119.4" y="250.4" font-size="7.5" font-style="italic">Itgb3</text>
<text x="76.2" y="250.9" font-size="7.5" text-anchor="end" font-style="italic">Alox12</text>
<text x="105.6" y="255.6" font-size="7.5" font-style="italic">Itga6</text>
<text x="100.4" y="261.6" font-size="7.5" font-style="italic">Tubb2b</text>
<text x="104.7" y="266.8" font-size="7.5" font-style="italic">Slfn14</text>
<text x="114" y="272.3" font-size="7.5" font-style="italic">Gp6</text>
<text x="117.5" y="278.7" font-size="7.5" font-style="italic">Gata2</text>
<text x="127" y="286.2" font-size="7.5" font-style="italic">Itga2b</text>
<text x="123.6" y="291.3" font-size="7.5" font-style="italic">Itgb2</text>
<text x="95.2" y="294.8" font-size="7.5" font-style="italic">Nbeal2</text>
<text x="55.4" y="263" font-size="7.5" font-style="italic">Pdgfa</text>
<text x="55.4" y="268.6" font-size="7.5" font-style="italic">Lyn</text>
<text x="55.4" y="274.6" font-size="7.5" font-style="italic">Lmna</text>
<text x="55.4" y="280.7" font-size="7.5" font-style="italic">Ppbp</text>
<text x="55.4" y="286.7" font-size="7.5" font-style="italic">F5</text>
<text x="55.4" y="292.8" font-size="7.5" font-style="italic">Bach2</text>
</g>
<line x1="74.4" y1="261.6" x2="109" y2="277.2" stroke="#444" stroke-width="0.8" stroke-dasharray="1,1.1"/>
<line x1="77.9" y1="290.2" x2="103.8" y2="287" stroke="#444" stroke-width="0.8" stroke-dasharray="1,1.1"/>
<text x="210.7" y="179.6" font-size="11.4" font-weight="bold" fill="#000">E</text>
<rect x="243.1" y="232" width="3.3" height="70" fill="#c4122f"/>
<rect x="247.7" y="238" width="3.3" height="64" fill="#134f82"/>
<line x1="244.75" y1="230.4" x2="244.75" y2="232.3" stroke="#231f20" stroke-width="0.8"/>
<line x1="243.65" y1="230.4" x2="245.85" y2="230.4" stroke="#231f20" stroke-width="0.8"/>
<line x1="249.35" y1="236.4" x2="249.35" y2="238.3" stroke="#231f20" stroke-width="0.8"/>
<line x1="248.25" y1="236.4" x2="250.45" y2="236.4" stroke="#231f20" stroke-width="0.8"/>
<text x="247.85" y="307.8" font-size="8" text-anchor="end" transform="rotate(-45 247.85 307.8)">Mpl</text>
<rect x="255.4" y="205.75" width="3.3" height="96.25" fill="#c4122f"/>
<rect x="260" y="209.5" width="3.3" height="92.5" fill="#134f82"/>
<line x1="257.05" y1="204.15" x2="257.05" y2="206.05" stroke="#231f20" stroke-width="0.8"/>
<line x1="255.95" y1="204.15" x2="258.15" y2="204.15" stroke="#231f20" stroke-width="0.8"/>
<line x1="261.65" y1="207.9" x2="261.65" y2="209.8" stroke="#231f20" stroke-width="0.8"/>
<line x1="260.55" y1="207.9" x2="262.75" y2="207.9" stroke="#231f20" stroke-width="0.8"/>
<text x="260.15" y="307.8" font-size="8" text-anchor="end" transform="rotate(-45 260.15 307.8)">Itga2b</text>
<rect x="267.7" y="207.5" width="3.3" height="94.5" fill="#c4122f"/>
<rect x="272.3" y="216.75" width="3.3" height="85.25" fill="#134f82"/>
<line x1="269.35" y1="205.9" x2="269.35" y2="207.8" stroke="#231f20" stroke-width="0.8"/>
<line x1="268.25" y1="205.9" x2="270.45" y2="205.9" stroke="#231f20" stroke-width="0.8"/>
<line x1="273.95" y1="215.15" x2="273.95" y2="217.05" stroke="#231f20" stroke-width="0.8"/>
<line x1="272.85" y1="215.15" x2="275.05" y2="215.15" stroke="#231f20" stroke-width="0.8"/>
<text x="272.45" y="307.8" font-size="8" text-anchor="end" transform="rotate(-45 272.45 307.8)">Itgb3</text>
<rect x="280" y="211" width="3.3" height="91" fill="#c4122f"/>
<rect x="284.6" y="238" width="3.3" height="64" fill="#134f82"/>
<line x1="281.65" y1="209.4" x2="281.65" y2="211.3" stroke="#231f20" stroke-width="0.8"/>
<line x1="280.55" y1="209.4" x2="282.75" y2="209.4" stroke="#231f20" stroke-width="0.8"/>
<line x1="286.25" y1="236.4" x2="286.25" y2="238.3" stroke="#231f20" stroke-width="0.8"/>
<line x1="285.15" y1="236.4" x2="287.35" y2="236.4" stroke="#231f20" stroke-width="0.8"/>
<text x="284.75" y="307.8" font-size="8" text-anchor="end" transform="rotate(-45 284.75 307.8)">Tubb1</text>
<rect x="292.3" y="221.25" width="3.3" height="80.75" fill="#c4122f"/>
<rect x="296.9" y="246.25" width="3.3" height="55.75" fill="#134f82"/>
<line x1="293.95" y1="219.65" x2="293.95" y2="221.55" stroke="#231f20" stroke-width="0.8"/>
<line x1="292.85" y1="219.65" x2="295.05" y2="219.65" stroke="#231f20" stroke-width="0.8"/>
<line x1="298.55" y1="244.65" x2="298.55" y2="246.55" stroke="#231f20" stroke-width="0.8"/>
<line x1="297.45" y1="244.65" x2="299.65" y2="244.65" stroke="#231f20" stroke-width="0.8"/>
<text x="297.05" y="307.8" font-size="8" text-anchor="end" transform="rotate(-45 297.05 307.8)">Tubb2a</text>
<rect x="304.6" y="243.5" width="3.3" height="58.5" fill="#c4122f"/>
<rect x="309.2" y="280.75" width="3.3" height="21.25" fill="#134f82"/>
<line x1="306.25" y1="241.9" x2="306.25" y2="243.8" stroke="#231f20" stroke-width="0.8"/>
<line x1="305.15" y1="241.9" x2="307.35" y2="241.9" stroke="#231f20" stroke-width="0.8"/>
<line x1="310.85" y1="279.15" x2="310.85" y2="281.05" stroke="#231f20" stroke-width="0.8"/>
<line x1="309.75" y1="279.15" x2="311.95" y2="279.15" stroke="#231f20" stroke-width="0.8"/>
<text x="309.35" y="307.8" font-size="8" text-anchor="end" transform="rotate(-45 309.35 307.8)">Tubb2b</text>
<rect x="316.9" y="205.5" width="3.3" height="96.5" fill="#c4122f"/>
<rect x="321.5" y="213" width="3.3" height="89" fill="#134f82"/>
<line x1="318.55" y1="203.9" x2="318.55" y2="205.8" stroke="#231f20" stroke-width="0.8"/>
<line x1="317.45" y1="203.9" x2="319.65" y2="203.9" stroke="#231f20" stroke-width="0.8"/>
<line x1="323.15" y1="211.4" x2="323.15" y2="213.3" stroke="#231f20" stroke-width="0.8"/>
<line x1="322.05" y1="211.4" x2="324.25" y2="211.4" stroke="#231f20" stroke-width="0.8"/>
<text x="321.65" y="307.8" font-size="8" text-anchor="end" transform="rotate(-45 321.65 307.8)">Flna</text>
<rect x="329.2" y="229.5" width="3.3" height="72.5" fill="#c4122f"/>
<rect x="333.8" y="241.25" width="3.3" height="60.75" fill="#134f82"/>
<line x1="330.85" y1="227.9" x2="330.85" y2="229.8" stroke="#231f20" stroke-width="0.8"/>
<line x1="329.75" y1="227.9" x2="331.95" y2="227.9" stroke="#231f20" stroke-width="0.8"/>
<line x1="335.45" y1="239.65" x2="335.45" y2="241.55" stroke="#231f20" stroke-width="0.8"/>
<line x1="334.35" y1="239.65" x2="336.55" y2="239.65" stroke="#231f20" stroke-width="0.8"/>
<text x="333.95" y="307.8" font-size="8" text-anchor="end" transform="rotate(-45 333.95 307.8)">Lmna</text>
<rect x="341.5" y="223.75" width="3.3" height="78.25" fill="#c4122f"/>
<rect x="346.1" y="232" width="3.3" height="70" fill="#134f82"/>
<line x1="343.15" y1="222.15" x2="343.15" y2="224.05" stroke="#231f20" stroke-width="0.8"/>
<line x1="342.05" y1="222.15" x2="344.25" y2="222.15" stroke="#231f20" stroke-width="0.8"/>
<line x1="347.75" y1="230.4" x2="347.75" y2="232.3" stroke="#231f20" stroke-width="0.8"/>
<line x1="346.65" y1="230.4" x2="348.85" y2="230.4" stroke="#231f20" stroke-width="0.8"/>
<text x="346.25" y="307.8" font-size="8" text-anchor="end" transform="rotate(-45 346.25 307.8)">Gp5</text>
<rect x="353.8" y="235.75" width="3.3" height="66.25" fill="#c4122f"/>
<rect x="358.4" y="247.75" width="3.3" height="54.25" fill="#134f82"/>
<line x1="355.45" y1="234.15" x2="355.45" y2="236.05" stroke="#231f20" stroke-width="0.8"/>
<line x1="354.35" y1="234.15" x2="356.55" y2="234.15" stroke="#231f20" stroke-width="0.8"/>
<line x1="360.05" y1="246.15" x2="360.05" y2="248.05" stroke="#231f20" stroke-width="0.8"/>
<line x1="358.95" y1="246.15" x2="361.15" y2="246.15" stroke="#231f20" stroke-width="0.8"/>
<text x="358.55" y="307.8" font-size="8" text-anchor="end" transform="rotate(-45 358.55 307.8)">Gp6</text>
<rect x="366.1" y="220.75" width="3.3" height="81.25" fill="#c4122f"/>
<rect x="370.7" y="230.5" width="3.3" height="71.5" fill="#134f82"/>
<line x1="367.75" y1="219.15" x2="367.75" y2="221.05" stroke="#231f20" stroke-width="0.8"/>
<line x1="366.65" y1="219.15" x2="368.85" y2="219.15" stroke="#231f20" stroke-width="0.8"/>
<line x1="372.35" y1="228.9" x2="372.35" y2="230.8" stroke="#231f20" stroke-width="0.8"/>
<line x1="371.25" y1="228.9" x2="373.45" y2="228.9" stroke="#231f20" stroke-width="0.8"/>
<text x="370.85" y="307.8" font-size="8" text-anchor="end" transform="rotate(-45 370.85 307.8)">F5</text>
<rect x="378.4" y="220.5" width="3.3" height="81.5" fill="#c4122f"/>
<rect x="383" y="243.5" width="3.3" height="58.5" fill="#134f82"/>
<line x1="380.05" y1="218.9" x2="380.05" y2="220.8" stroke="#231f20" stroke-width="0.8"/>
<line x1="378.95" y1="218.9" x2="381.15" y2="218.9" stroke="#231f20" stroke-width="0.8"/>
<line x1="384.65" y1="241.9" x2="384.65" y2="243.8" stroke="#231f20" stroke-width="0.8"/>
<line x1="383.55" y1="241.9" x2="385.75" y2="241.9" stroke="#231f20" stroke-width="0.8"/>
<text x="383.15" y="307.8" font-size="8" text-anchor="end" transform="rotate(-45 383.15 307.8)">Alox12</text>
<rect x="390.7" y="235.5" width="3.3" height="66.5" fill="#c4122f"/>
<rect x="395.3" y="258.75" width="3.3" height="43.25" fill="#134f82"/>
<line x1="392.35" y1="233.9" x2="392.35" y2="235.8" stroke="#231f20" stroke-width="0.8"/>
<line x1="391.25" y1="233.9" x2="393.45" y2="233.9" stroke="#231f20" stroke-width="0.8"/>
<line x1="396.95" y1="255.5" x2="396.95" y2="259.05" stroke="#231f20" stroke-width="0.8"/>
<line x1="395.85" y1="255.5" x2="398.05" y2="255.5" stroke="#231f20" stroke-width="0.8"/>
<text x="395.45" y="307.8" font-size="8" text-anchor="end" transform="rotate(-45 395.45 307.8)">Myl9</text>
<rect x="403" y="223.75" width="3.3" height="78.25" fill="#c4122f"/>
<rect x="407.6" y="230.75" width="3.3" height="71.25" fill="#134f82"/>
<line x1="404.65" y1="222.15" x2="404.65" y2="224.05" stroke="#231f20" stroke-width="0.8"/>
<line x1="403.55" y1="222.15" x2="405.75" y2="222.15" stroke="#231f20" stroke-width="0.8"/>
<line x1="409.25" y1="229.15" x2="409.25" y2="231.05" stroke="#231f20" stroke-width="0.8"/>
<line x1="408.15" y1="229.15" x2="410.35" y2="229.15" stroke="#231f20" stroke-width="0.8"/>
<text x="407.75" y="307.8" font-size="8" text-anchor="end" transform="rotate(-45 407.75 307.8)">Nbeal2</text>
<rect x="415.3" y="223.25" width="3.3" height="78.75" fill="#c4122f"/>
<rect x="419.9" y="235" width="3.3" height="67" fill="#134f82"/>
<line x1="416.95" y1="221.65" x2="416.95" y2="223.55" stroke="#231f20" stroke-width="0.8"/>
<line x1="415.85" y1="221.65" x2="418.05" y2="221.65" stroke="#231f20" stroke-width="0.8"/>
<line x1="421.55" y1="233.4" x2="421.55" y2="235.3" stroke="#231f20" stroke-width="0.8"/>
<line x1="420.45" y1="233.4" x2="422.65" y2="233.4" stroke="#231f20" stroke-width="0.8"/>
<text x="420.05" y="307.8" font-size="8" text-anchor="end" transform="rotate(-45 420.05 307.8)">Lyst</text>
<rect x="427.6" y="209.3" width="3.3" height="92.7" fill="#c4122f"/>
<rect x="432.2" y="227.2" width="3.3" height="74.8" fill="#134f82"/>
<line x1="429.25" y1="207.7" x2="429.25" y2="209.6" stroke="#231f20" stroke-width="0.8"/>
<line x1="428.15" y1="207.7" x2="430.35" y2="207.7" stroke="#231f20" stroke-width="0.8"/>
<line x1="433.85" y1="225.6" x2="433.85" y2="227.5" stroke="#231f20" stroke-width="0.8"/>
<line x1="432.75" y1="225.6" x2="434.95" y2="225.6" stroke="#231f20" stroke-width="0.8"/>
<text x="432.35" y="307.8" font-size="8" text-anchor="end" transform="rotate(-45 432.35 307.8)">Thbs1</text>
<rect x="439.9" y="227.9" width="3.3" height="74.1" fill="#c4122f"/>
<rect x="444.5" y="237.8" width="3.3" height="64.2" fill="#134f82"/>
<line x1="441.55" y1="226.3" x2="441.55" y2="228.2" stroke="#231f20" stroke-width="0.8"/>
<line x1="440.45" y1="226.3" x2="442.65" y2="226.3" stroke="#231f20" stroke-width="0.8"/>
<line x1="446.15" y1="236.2" x2="446.15" y2="238.1" stroke="#231f20" stroke-width="0.8"/>
<line x1="445.05" y1="236.2" x2="447.25" y2="236.2" stroke="#231f20" stroke-width="0.8"/>
<text x="444.65" y="307.8" font-size="8" text-anchor="end" transform="rotate(-45 444.65 307.8)">Lyn</text>
<rect x="452.2" y="233.8" width="3.3" height="68.2" fill="#c4122f"/>
<rect x="456.8" y="251.7" width="3.3" height="50.3" fill="#134f82"/>
<line x1="453.85" y1="232.2" x2="453.85" y2="234.1" stroke="#231f20" stroke-width="0.8"/>
<line x1="452.75" y1="232.2" x2="454.95" y2="232.2" stroke="#231f20" stroke-width="0.8"/>
<line x1="458.45" y1="250.1" x2="458.45" y2="252" stroke="#231f20" stroke-width="0.8"/>
<line x1="457.35" y1="250.1" x2="459.55" y2="250.1" stroke="#231f20" stroke-width="0.8"/>
<text x="456.95" y="307.8" font-size="8" text-anchor="end" transform="rotate(-45 456.95 307.8)">Slfn14</text>
<rect x="464.5" y="253.8" width="3.3" height="48.2" fill="#c4122f"/>
<rect x="469.1" y="279" width="3.3" height="23" fill="#134f82"/>
<line x1="466.15" y1="250" x2="466.15" y2="254.1" stroke="#231f20" stroke-width="0.8"/>
<line x1="465.05" y1="250" x2="467.25" y2="250" stroke="#231f20" stroke-width="0.8"/>
<line x1="470.75" y1="276.5" x2="470.75" y2="279.3" stroke="#231f20" stroke-width="0.8"/>
<line x1="469.65" y1="276.5" x2="471.85" y2="276.5" stroke="#231f20" stroke-width="0.8"/>
<text x="469.25" y="307.8" font-size="8" text-anchor="end" transform="rotate(-45 469.25 307.8)">Bach2</text>
<rect x="476.8" y="233.8" width="3.3" height="68.2" fill="#c4122f"/>
<rect x="481.4" y="248" width="3.3" height="54" fill="#134f82"/>
<line x1="478.45" y1="232.2" x2="478.45" y2="234.1" stroke="#231f20" stroke-width="0.8"/>
<line x1="477.35" y1="232.2" x2="479.55" y2="232.2" stroke="#231f20" stroke-width="0.8"/>
<line x1="483.05" y1="246.4" x2="483.05" y2="248.3" stroke="#231f20" stroke-width="0.8"/>
<line x1="481.95" y1="246.4" x2="484.15" y2="246.4" stroke="#231f20" stroke-width="0.8"/>
<text x="481.55" y="307.8" font-size="8" text-anchor="end" transform="rotate(-45 481.55 307.8)">Gata2</text>
<rect x="489.1" y="281" width="3.3" height="21" fill="#c4122f"/>
<rect x="493.7" y="262" width="3.3" height="40" fill="#134f82"/>
<line x1="495.35" y1="255" x2="495.35" y2="262.3" stroke="#231f20" stroke-width="0.8"/>
<line x1="494.25" y1="255" x2="496.45" y2="255" stroke="#231f20" stroke-width="0.8"/>
<text x="493.85" y="307.8" font-size="8" text-anchor="end" transform="rotate(-45 493.85 307.8)">Runx2</text>
<rect x="501.4" y="273" width="3.3" height="29" fill="#c4122f"/>
<rect x="506" y="257.7" width="3.3" height="44.3" fill="#134f82"/>
<line x1="503.05" y1="265" x2="503.05" y2="273.3" stroke="#231f20" stroke-width="0.8"/>
<line x1="501.95" y1="265" x2="504.15" y2="265" stroke="#231f20" stroke-width="0.8"/>
<line x1="507.65" y1="256.3" x2="507.65" y2="258" stroke="#231f20" stroke-width="0.8"/>
<line x1="506.55" y1="256.3" x2="508.75" y2="256.3" stroke="#231f20" stroke-width="0.8"/>
<text x="506.15" y="307.8" font-size="8" text-anchor="end" transform="rotate(-45 506.15 307.8)">Runx3</text>
<line x1="241.25" y1="183.75" x2="241.25" y2="302.6" stroke="#231f20" stroke-width="1.3"/>
<line x1="240.6" y1="302" x2="513" y2="302" stroke="#231f20" stroke-width="1.3"/>
<line x1="237.75" y1="302" x2="241.25" y2="302" stroke="#231f20" stroke-width="1"/>
<text x="234.95" y="305.15" font-size="9.2" text-anchor="end" textLength="4.3" lengthAdjust="spacingAndGlyphs">0</text>
<line x1="237.75" y1="264" x2="241.25" y2="264" stroke="#231f20" stroke-width="1"/>
<text x="234.95" y="267.15" font-size="9.2" text-anchor="end" textLength="4.3" lengthAdjust="spacingAndGlyphs">5</text>
<line x1="237.75" y1="226" x2="241.25" y2="226" stroke="#231f20" stroke-width="1"/>
<text x="234.95" y="229.15" font-size="9.2" text-anchor="end" textLength="8.6" lengthAdjust="spacingAndGlyphs">10</text>
<line x1="237.75" y1="188" x2="241.25" y2="188" stroke="#231f20" stroke-width="1"/>
<text x="234.95" y="191.15" font-size="9.2" text-anchor="end" textLength="8.6" lengthAdjust="spacingAndGlyphs">15</text>
<text x="247.5" y="191.6" font-size="9" textLength="41.25" lengthAdjust="spacingAndGlyphs">FDR&lt;0.05</text>
<text x="244" y="230.2" font-size="9" textLength="9.5" lengthAdjust="spacingAndGlyphs">ns</text>
<rect x="340.75" y="191.25" width="11.75" height="8.75" fill="#c4122f"/>
<rect x="340.75" y="203.75" width="11.75" height="8.75" fill="#134f82"/>
<text x="356.3" y="198.5" font-size="7.8" textLength="23.75" lengthAdjust="spacingAndGlyphs">Ctrl 8N</text>
<text x="356.3" y="211" font-size="7.8" textLength="32.5" lengthAdjust="spacingAndGlyphs">Δ/Δ ≥16N</text>
<text transform="translate(221.3 247.4) rotate(-90)" font-size="9.9" text-anchor="middle" textLength="29.5" lengthAdjust="spacingAndGlyphs">log<tspan font-size="6.5" dy="1.8">2</tspan><tspan dy="-1.8">CPM</tspan></text>
<text x="7.2" y="348.2" font-size="11.4" font-weight="bold" fill="#000">F</text>
<text x="53.75" y="372.2" font-size="9.6" textLength="97.5" lengthAdjust="spacingAndGlyphs">GO: Biological process</text>
<rect x="102.5" y="384.3" width="55.5" height="5.4" fill="#c4122f"/>
<rect x="102.5" y="391.4" width="65" height="5.7" fill="#134f82"/>
<line x1="98.8" y1="390.5" x2="102.5" y2="390.5" stroke="#231f20" stroke-width="1"/>
<rect x="102.5" y="406.3" width="38.5" height="5.4" fill="#c4122f"/>
<rect x="102.5" y="413.4" width="49.5" height="5.7" fill="#134f82"/>
<line x1="98.8" y1="412.5" x2="102.5" y2="412.5" stroke="#231f20" stroke-width="1"/>
<rect x="102.5" y="428.05" width="98" height="5.4" fill="#c4122f"/>
<rect x="102.5" y="435.15" width="40.5" height="5.7" fill="#134f82"/>
<line x1="98.8" y1="434.25" x2="102.5" y2="434.25" stroke="#231f20" stroke-width="1"/>
<rect x="102.5" y="449.55" width="42.5" height="5.4" fill="#c4122f"/>
<rect x="102.5" y="456.65" width="20" height="5.7" fill="#134f82"/>
<line x1="98.8" y1="455.75" x2="102.5" y2="455.75" stroke="#231f20" stroke-width="1"/>
<rect x="102.5" y="471.3" width="55.5" height="5.4" fill="#c4122f"/>
<rect x="102.5" y="478.4" width="18.5" height="5.7" fill="#134f82"/>
<line x1="98.8" y1="477.5" x2="102.5" y2="477.5" stroke="#231f20" stroke-width="1"/>
<line x1="102.5" y1="379" x2="102.5" y2="489.4" stroke="#231f20" stroke-width="1.3"/>
<line x1="101.9" y1="488.75" x2="216.5" y2="488.75" stroke="#231f20" stroke-width="1.3"/>
<line x1="102.5" y1="488.75" x2="102.5" y2="492.25" stroke="#231f20" stroke-width="1"/>
<text x="102.5" y="500.95" font-size="9.2" text-anchor="middle" textLength="4.3" lengthAdjust="spacingAndGlyphs">0</text>
<line x1="129.9" y1="488.75" x2="129.9" y2="492.25" stroke="#231f20" stroke-width="1"/>
<text x="129.9" y="500.95" font-size="9.2" text-anchor="middle" textLength="4.3" lengthAdjust="spacingAndGlyphs">2</text>
<line x1="157.3" y1="488.75" x2="157.3" y2="492.25" stroke="#231f20" stroke-width="1"/>
<text x="157.3" y="500.95" font-size="9.2" text-anchor="middle" textLength="4.3" lengthAdjust="spacingAndGlyphs">4</text>
<line x1="184.7" y1="488.75" x2="184.7" y2="492.25" stroke="#231f20" stroke-width="1"/>
<text x="184.7" y="500.95" font-size="9.2" text-anchor="middle" textLength="4.3" lengthAdjust="spacingAndGlyphs">6</text>
<line x1="212.1" y1="488.75" x2="212.1" y2="492.25" stroke="#231f20" stroke-width="1"/>
<text x="212.1" y="500.95" font-size="9.2" text-anchor="middle" textLength="4.3" lengthAdjust="spacingAndGlyphs">8</text>
<text x="96.5" y="393.6" font-size="10.2" text-anchor="end" textLength="77.45" lengthAdjust="spacingAndGlyphs">Blood coagulation</text>
<text x="96.5" y="414.85" font-size="10.2" text-anchor="end" textLength="86.65" lengthAdjust="spacingAndGlyphs">Platelet aggregation</text>
<text x="96.5" y="432.35" font-size="10.2" text-anchor="end" textLength="78.51" lengthAdjust="spacingAndGlyphs">Intracellular signal</text>
<text x="96.5" y="443.2" font-size="10.2" text-anchor="end" textLength="53.07" lengthAdjust="spacingAndGlyphs">transduction</text>
<text x="96.5" y="453.8" font-size="10.2" text-anchor="end" textLength="75.81" lengthAdjust="spacingAndGlyphs">Integrin-mediated</text>
<text x="96.5" y="465.6" font-size="10.2" text-anchor="end" textLength="77.44" lengthAdjust="spacingAndGlyphs">signaling pathway</text>
<text x="96.5" y="481.6" font-size="10.2" text-anchor="end" textLength="24.91" lengthAdjust="spacingAndGlyphs">Aging</text>
<rect x="165.5" y="453" width="10.75" height="7" fill="#c4122f"/>
<rect x="165.5" y="463.75" width="10.75" height="7" fill="#134f82"/>
<text x="179.8" y="459.6" font-size="8.3" textLength="6.27" lengthAdjust="spacingAndGlyphs">%</text>
<text x="179.8" y="470.1" font-size="8.3" textLength="13.75" lengthAdjust="spacingAndGlyphs">FDR</text>
<text x="133.75" y="514.4" font-size="9.8" textLength="51.5" lengthAdjust="spacingAndGlyphs">-log<tspan font-size="6.8" dy="2">10</tspan><tspan dy="-2">(FDR) / %</tspan></text>
<text x="274.7" y="348.2" font-size="11.4" font-weight="bold" fill="#000">G</text>
<circle cx="320.4" cy="416.6" r="27.1" fill="#134f82"/>
<path d="M320.4,416.6 L339.56,397.44 A27.1,27.1 0 0 0 293.42,419.15 Z" fill="#c4122f"/>
<circle cx="420" cy="416.1" r="27" fill="#134f82"/>
<path d="M420,416.1 L438.76,396.68 A27,27 0 0 0 393.08,414.03 Z" fill="#c4122f"/>
<text x="314.5" y="407.5" font-size="9.2" text-anchor="middle" fill="#fff" textLength="18.25" lengthAdjust="spacingAndGlyphs">39%</text>
<text x="322.5" y="432" font-size="9.2" text-anchor="middle" fill="#fff" textLength="18.25" lengthAdjust="spacingAndGlyphs">61%</text>
<text x="417.5" y="405" font-size="9.2" text-anchor="middle" fill="#fff" textLength="18.25" lengthAdjust="spacingAndGlyphs">36%</text>
<text x="425.5" y="430" font-size="9.2" text-anchor="middle" fill="#fff" textLength="18.25" lengthAdjust="spacingAndGlyphs">64%</text>
<text x="320.4" y="358.9" font-size="9.85" text-anchor="middle">Control</text>
<text x="320.1" y="370.9" font-size="10" text-anchor="middle" textLength="49.5" lengthAdjust="spacingAndGlyphs">8N to ≥16N</text>
<text x="320.4" y="383.3" font-size="9.6" text-anchor="middle" textLength="33" lengthAdjust="spacingAndGlyphs">(n=321)</text>
<text x="379.6" y="360" font-size="10" textLength="81" lengthAdjust="spacingAndGlyphs">Ctrl vs <tspan font-style="italic">Pf4-Srsf3</tspan><tspan font-size="7" dy="-3.8">Δ/Δ</tspan></text>
<text x="420" y="372" font-size="10" text-anchor="middle">≥16N</text>
<text x="420" y="383.3" font-size="9.6" text-anchor="middle" textLength="33" lengthAdjust="spacingAndGlyphs">(n=224)</text>
<rect x="325" y="454.5" width="12.5" height="11.75" fill="#c4122f"/>
<rect x="325" y="470" width="12.5" height="13" fill="#134f82"/>
<text x="341.25" y="465.5" font-size="9.6" textLength="79.5" lengthAdjust="spacingAndGlyphs">SRSF3 iCLIP peaks</text>
<text x="341.25" y="481" font-size="9.6" textLength="62.5" lengthAdjust="spacingAndGlyphs">no iCLIP peaks</text>
<text x="7.2" y="524.6" font-size="11.4" font-weight="bold" fill="#000">H</text>
<rect x="64.9" y="633" width="5.5" height="8.25" fill="#c4122f"/>
<line x1="67.65" y1="627.7" x2="67.65" y2="633.3" stroke="#231f20" stroke-width="0.9"/>
<line x1="66.45" y1="627.7" x2="68.85" y2="627.7" stroke="#231f20" stroke-width="0.9"/>
<rect x="72.8" y="639.7" width="4.6" height="1.55" fill="#134f82"/>
<text x="71.4" y="648.5" font-size="7.6" text-anchor="end" transform="rotate(-45 71.4 648.5)">Neg.</text>
<rect x="84.2" y="635.8" width="5.5" height="5.45" fill="#c4122f"/>
<line x1="86.95" y1="633.3" x2="86.95" y2="636.1" stroke="#231f20" stroke-width="0.9"/>
<line x1="85.75" y1="633.3" x2="88.15" y2="633.3" stroke="#231f20" stroke-width="0.9"/>
<rect x="90.9" y="608" width="5.5" height="33.25" fill="#134f82"/>
<line x1="93.65" y1="606" x2="93.65" y2="608.3" stroke="#231f20" stroke-width="0.9"/>
<line x1="92.45" y1="606" x2="94.85" y2="606" stroke="#231f20" stroke-width="0.9"/>
<rect x="90.4" y="609.7" width="6.5" height="2.3" fill="#fff"/>
<text x="90.7" y="648.5" font-size="7.6" text-anchor="end" transform="rotate(-45 90.7 648.5)">SRSF3</text>
<rect x="103.4" y="635.8" width="5.5" height="5.45" fill="#c4122f"/>
<line x1="106.15" y1="633.3" x2="106.15" y2="636.1" stroke="#231f20" stroke-width="0.9"/>
<line x1="104.95" y1="633.3" x2="107.35" y2="633.3" stroke="#231f20" stroke-width="0.9"/>
<rect x="109.9" y="608" width="5.5" height="33.25" fill="#134f82"/>
<line x1="112.65" y1="606" x2="112.65" y2="608.3" stroke="#231f20" stroke-width="0.9"/>
<line x1="111.45" y1="606" x2="113.85" y2="606" stroke="#231f20" stroke-width="0.9"/>
<rect x="109.4" y="609.7" width="6.5" height="2.3" fill="#fff"/>
<text x="109.9" y="648.5" font-size="7.6" text-anchor="end" transform="rotate(-45 109.9 648.5)">MPL</text>
<rect x="119.1" y="635.8" width="5.5" height="5.45" fill="#c4122f"/>
<line x1="121.85" y1="633.3" x2="121.85" y2="636.1" stroke="#231f20" stroke-width="0.9"/>
<line x1="120.65" y1="633.3" x2="123.05" y2="633.3" stroke="#231f20" stroke-width="0.9"/>
<rect x="125.5" y="576.25" width="5.5" height="65" fill="#134f82"/>
<line x1="128.25" y1="566.25" x2="128.25" y2="576.55" stroke="#231f20" stroke-width="0.9"/>
<line x1="127.05" y1="566.25" x2="129.45" y2="566.25" stroke="#231f20" stroke-width="0.9"/>
<rect x="125" y="609.7" width="6.5" height="2.3" fill="#fff"/>
<text x="125.6" y="648.5" font-size="7.6" text-anchor="end" transform="rotate(-45 125.6 648.5)">ITGA2B</text>
<rect x="135.2" y="635.8" width="5.5" height="5.45" fill="#c4122f"/>
<line x1="137.95" y1="633.3" x2="137.95" y2="636.1" stroke="#231f20" stroke-width="0.9"/>
<line x1="136.75" y1="633.3" x2="139.15" y2="633.3" stroke="#231f20" stroke-width="0.9"/>
<rect x="141.4" y="605" width="5.5" height="36.25" fill="#134f82"/>
<line x1="144.15" y1="601.25" x2="144.15" y2="605.3" stroke="#231f20" stroke-width="0.9"/>
<line x1="142.95" y1="601.25" x2="145.35" y2="601.25" stroke="#231f20" stroke-width="0.9"/>
<rect x="140.9" y="609.7" width="6.5" height="2.3" fill="#fff"/>
<text x="141.7" y="648.5" font-size="7.6" text-anchor="end" transform="rotate(-45 141.7 648.5)">ITGB3</text>
<rect x="150.8" y="635.8" width="5.5" height="5.45" fill="#c4122f"/>
<line x1="153.55" y1="633.3" x2="153.55" y2="636.1" stroke="#231f20" stroke-width="0.9"/>
<line x1="152.35" y1="633.3" x2="154.75" y2="633.3" stroke="#231f20" stroke-width="0.9"/>
<rect x="157.7" y="600.75" width="5.5" height="40.5" fill="#134f82"/>
<line x1="160.45" y1="594.25" x2="160.45" y2="601.05" stroke="#231f20" stroke-width="0.9"/>
<line x1="159.25" y1="594.25" x2="161.65" y2="594.25" stroke="#231f20" stroke-width="0.9"/>
<rect x="157.2" y="609.7" width="6.5" height="2.3" fill="#fff"/>
<text x="157.3" y="648.5" font-size="7.6" text-anchor="end" transform="rotate(-45 157.3 648.5)">NBEAL2</text>
<rect x="169.8" y="635.8" width="5.5" height="5.45" fill="#c4122f"/>
<line x1="172.55" y1="633.3" x2="172.55" y2="636.1" stroke="#231f20" stroke-width="0.9"/>
<line x1="171.35" y1="633.3" x2="173.75" y2="633.3" stroke="#231f20" stroke-width="0.9"/>
<rect x="176.7" y="591.25" width="5.5" height="50" fill="#134f82"/>
<line x1="179.45" y1="582" x2="179.45" y2="591.55" stroke="#231f20" stroke-width="0.9"/>
<line x1="178.25" y1="582" x2="180.65" y2="582" stroke="#231f20" stroke-width="0.9"/>
<rect x="176.2" y="609.7" width="6.5" height="2.3" fill="#fff"/>
<text x="176.3" y="648.5" font-size="7.6" text-anchor="end" transform="rotate(-45 176.3 648.5)">FLNA</text>
<rect x="188.8" y="635.8" width="5.5" height="5.45" fill="#c4122f"/>
<line x1="191.55" y1="633.3" x2="191.55" y2="636.1" stroke="#231f20" stroke-width="0.9"/>
<line x1="190.35" y1="633.3" x2="192.75" y2="633.3" stroke="#231f20" stroke-width="0.9"/>
<rect x="195.8" y="595" width="5.5" height="46.25" fill="#134f82"/>
<line x1="198.55" y1="585.5" x2="198.55" y2="595.3" stroke="#231f20" stroke-width="0.9"/>
<line x1="197.35" y1="585.5" x2="199.75" y2="585.5" stroke="#231f20" stroke-width="0.9"/>
<rect x="195.3" y="609.7" width="6.5" height="2.3" fill="#fff"/>
<text x="195.3" y="648.5" font-size="7.6" text-anchor="end" transform="rotate(-45 195.3 648.5)">TUBB2B</text>
<rect x="205.1" y="635.8" width="5.5" height="5.45" fill="#c4122f"/>
<line x1="207.85" y1="630" x2="207.85" y2="636.1" stroke="#231f20" stroke-width="0.9"/>
<line x1="206.65" y1="630" x2="209.05" y2="630" stroke="#231f20" stroke-width="0.9"/>
<rect x="211.3" y="588.75" width="5.5" height="52.5" fill="#134f82"/>
<line x1="214.05" y1="572" x2="214.05" y2="589.05" stroke="#231f20" stroke-width="0.9"/>
<line x1="212.85" y1="572" x2="215.25" y2="572" stroke="#231f20" stroke-width="0.9"/>
<rect x="210.8" y="609.7" width="6.5" height="2.3" fill="#fff"/>
<text x="211.6" y="648.5" font-size="7.6" text-anchor="end" transform="rotate(-45 211.6 648.5)">GP1BA</text>
<rect x="220.7" y="635.8" width="5.5" height="5.45" fill="#c4122f"/>
<line x1="223.45" y1="630.75" x2="223.45" y2="636.1" stroke="#231f20" stroke-width="0.9"/>
<line x1="222.25" y1="630.75" x2="224.65" y2="630.75" stroke="#231f20" stroke-width="0.9"/>
<rect x="227.6" y="600.5" width="5.5" height="40.75" fill="#134f82"/>
<line x1="230.35" y1="595" x2="230.35" y2="600.8" stroke="#231f20" stroke-width="0.9"/>
<line x1="229.15" y1="595" x2="231.55" y2="595" stroke="#231f20" stroke-width="0.9"/>
<rect x="227.1" y="609.7" width="6.5" height="2.3" fill="#fff"/>
<text x="227.2" y="648.5" font-size="7.6" text-anchor="end" transform="rotate(-45 227.2 648.5)">GP6</text>
<line x1="61.5" y1="532.5" x2="61.5" y2="641.9" stroke="#231f20" stroke-width="1.3"/>
<line x1="60.6" y1="641.25" x2="234.3" y2="641.25" stroke="#231f20" stroke-width="1.3"/>
<path d="M59.2,606.8 L64.8,613.2 M58.6,608.2 L64.2,614.6" fill="none" stroke="#231f20" stroke-width="0.9"/>
<line x1="58.3" y1="536.25" x2="61.5" y2="536.25" stroke="#231f20" stroke-width="1"/>
<text x="55.3" y="539.4" font-size="8.6" text-anchor="end" textLength="12.91" lengthAdjust="spacingAndGlyphs">800</text>
<line x1="58.3" y1="554.5" x2="61.5" y2="554.5" stroke="#231f20" stroke-width="1"/>
<text x="55.3" y="557.65" font-size="8.6" text-anchor="end" textLength="12.91" lengthAdjust="spacingAndGlyphs">600</text>
<line x1="58.3" y1="573" x2="61.5" y2="573" stroke="#231f20" stroke-width="1"/>
<text x="55.3" y="576.15" font-size="8.6" text-anchor="end" textLength="12.91" lengthAdjust="spacingAndGlyphs">400</text>
<line x1="58.3" y1="591.25" x2="61.5" y2="591.25" stroke="#231f20" stroke-width="1"/>
<text x="55.3" y="594.4" font-size="8.6" text-anchor="end" textLength="12.91" lengthAdjust="spacingAndGlyphs">200</text>
<line x1="58.3" y1="641.25" x2="61.5" y2="641.25" stroke="#231f20" stroke-width="1"/>
<text x="55.3" y="644.4" font-size="8.6" text-anchor="end" textLength="4.3" lengthAdjust="spacingAndGlyphs">0</text>
<text x="55.3" y="614.6" font-size="8.6" text-anchor="end" textLength="4.3" lengthAdjust="spacingAndGlyphs">5</text>
<rect x="71.25" y="540" width="10.75" height="7.5" fill="#c4122f"/>
<rect x="71.25" y="551.25" width="10.75" height="7.5" fill="#134f82"/>
<text x="85.5" y="547.3" font-size="8.3" textLength="29.5" lengthAdjust="spacingAndGlyphs">GFP-Ctrl</text>
<text x="85.5" y="558.1" font-size="8.3" textLength="38" lengthAdjust="spacingAndGlyphs">SRSF3-GFP</text>
<text transform="translate(36 588.3) rotate(-90)" font-size="8.8" text-anchor="middle" textLength="47" lengthAdjust="spacingAndGlyphs">RNA-IP / input</text>
<text x="275.2" y="524.4" font-size="11.4" font-weight="bold" fill="#000">I</text>
<text x="310" y="527.8" font-size="9.8" text-anchor="middle" textLength="35" lengthAdjust="spacingAndGlyphs">MEG-01</text>
<text x="310" y="539.6" font-size="9.8" text-anchor="middle" textLength="44" lengthAdjust="spacingAndGlyphs">SRSF3-KO</text>
<rect x="292" y="542" width="36.5" height="115.3" fill="#f4f2d9"/>
<rect x="292.4" y="542.4" width="35.7" height="114.5" fill="none" stroke="#dcd8ae" stroke-width="1"/>
<line x1="292" y1="580.6" x2="328.5" y2="580.6" stroke="#dcd8ae" stroke-width="1"/>
<line x1="292" y1="618.9" x2="328.5" y2="618.9" stroke="#dcd8ae" stroke-width="1"/>
<polygon points="313.91,557.97 308.7,560.87 310.79,564.18 306.98,563.58 306.56,565.41 303.32,563.55 300.85,564.45 300.76,562.33 295.8,563.04 300.4,558.49 296.41,557.28 301.45,555.56 300.04,552.45 303.21,554.76 305.88,550.88 306.52,554.96 310.35,553.29 308.46,557.31" fill="#e5808b"/>
<polygon points="320.11,555.68 315.26,555.33 317.13,560.28 313.37,558.15 312.59,562.12 310.72,558.35 308.09,560.7 307.58,557.37 304.16,556.1 307.45,554.57 305.62,553.25 308.32,551.89 306.97,547.28 310.77,550.18 312.07,548.53 313.27,551.02 318.29,548.84 315.28,553.34" fill="#e5808b"/>
<polygon points="325.99,550.91 322.71,552.85 323.04,555.61 321.41,555.17 320.11,557.91 317.14,555.56 314.22,557.43 315.39,553.89 310.44,554.07 313.92,551.47 312.87,549.12 315.35,548.41 315.19,546.48 318.22,547.23 320.52,543.26 321.15,547.53 324.66,545.99 322.97,549.79" fill="#e5808b"/>
<polygon points="325.37,563.48 322.75,565.3 325.13,568.04 320.7,568.53 319.46,570.92 318.01,568.22 316.08,570.01 315.22,567.57 310.32,566.17 314.62,563.62 310.95,561.64 315.22,560.55 316.2,558 318.12,559.29 320,557.29 320.81,560.45 326.33,559.19 322.88,562.58" fill="#e5808b"/>
<polygon points="314.27,568.29 310.68,569.96 312.45,573.77 309.03,571.23 306.81,575.51 305.42,571.57 303.36,573.56 303.23,570.67 300.95,571 301.92,568.3 300.91,565.44 303.85,565.34 303.66,562.65 305.06,563.7 307.05,561.72 309.31,564.44 312.58,562.21 310.59,566.57" fill="#e5808b"/>
<path d="M300,572 L297,577 M305,573 Q303,580 308,581 M318,570 Q316,578 320,579" fill="none" stroke="#e5808b" stroke-width="0.9"/>
<circle cx="304.46" cy="558.65" r="2.25" fill="#8f3461"/>
<circle cx="304.5" cy="558.52" r="2.05" fill="#8f3461"/>
<circle cx="303.65" cy="558.53" r="2.08" fill="#8f3461"/>
<circle cx="305.48" cy="557.49" r="1.88" fill="#8f3461"/>
<circle cx="303.37" cy="559.27" r="2.12" fill="#8f3461"/>
<circle cx="311.42" cy="554.59" r="2.1" fill="#8f3461"/>
<circle cx="310.43" cy="552.98" r="1.92" fill="#8f3461"/>
<circle cx="310.82" cy="554.98" r="2.11" fill="#8f3461"/>
<circle cx="311.8" cy="554.35" r="2.1" fill="#8f3461"/>
<circle cx="310.44" cy="554.05" r="1.8" fill="#8f3461"/>
<circle cx="317.78" cy="551.66" r="2.11" fill="#8f3461"/>
<circle cx="319.55" cy="550.41" r="1.84" fill="#8f3461"/>
<circle cx="317.44" cy="550.51" r="2.14" fill="#8f3461"/>
<circle cx="317.39" cy="551.28" r="1.83" fill="#8f3461"/>
<circle cx="317.88" cy="551.03" r="2.2" fill="#8f3461"/>
<circle cx="317.62" cy="564.31" r="2.09" fill="#8f3461"/>
<circle cx="320.12" cy="563.23" r="1.85" fill="#8f3461"/>
<circle cx="319.5" cy="564.2" r="1.88" fill="#8f3461"/>
<circle cx="319.35" cy="563.54" r="2.17" fill="#8f3461"/>
<circle cx="317.66" cy="563.11" r="2.24" fill="#8f3461"/>
<circle cx="307.9" cy="566.08" r="2.14" fill="#8f3461"/>
<circle cx="305.47" cy="568.52" r="1.71" fill="#8f3461"/>
<circle cx="307.64" cy="567.75" r="2.21" fill="#8f3461"/>
<circle cx="308" cy="566.65" r="1.9" fill="#8f3461"/>
<circle cx="307.12" cy="566.75" r="1.86" fill="#8f3461"/>
<polygon points="316.31,589.68 311.16,592.73 314.84,596.78 308.46,595.61 307.65,598.97 306.07,595.91 302.16,597.31 302.09,593.57 299.25,593.88 300.55,589.85 297.36,586.3 301.83,587.97 302.23,583.84 306,585.5 306.96,580.06 308.59,585.22 313.49,584.41 311.15,588.63" fill="#e5808b"/>
<polygon points="327.34,591.31 325.49,591.45 326.04,594.46 322.2,594.54 320.45,598.02 318.54,594.81 314.61,599.02 315.59,593.6 313.21,592.3 314.95,589.72 312.74,588.11 316.47,586.65 316.3,581.35 319.82,585.25 322.11,581.44 322.42,585.3 327.08,583.65 325.05,589.21" fill="#e5808b"/>
<polygon points="318.19,605.84 310.36,606.7 313.28,611.19 308.17,609.1 308.2,614.45 304.84,610.32 302.05,612.56 300.5,607.81 294.18,608.24 299.89,604.43 295.17,599.46 300.69,599.85 301.57,594.68 304.82,598.22 307.66,592.82 307.91,599.24 314.42,596.51 311.22,602.26" fill="#e5808b"/>
<polygon points="329.43,604.05 324.81,604.86 327.11,608.89 322.5,607.77 321.89,612.78 317.89,608.73 314.18,612.45 315.26,605.83 309.13,607.01 314.15,603.04 308.97,600.34 314.6,600.43 316.05,596.36 318.1,598.64 320.78,595.05 322.61,598.84 326.83,596.25 323.29,601.28" fill="#e5808b"/>
<path d="M300,609 L296,615 M306,610 L305,616 M316,609 L315,614 M322,608 L323,614" fill="none" stroke="#e5808b" stroke-width="1"/>
<circle cx="302.56" cy="627.14" r="2.47" fill="#8f3461"/>
<circle cx="305.92" cy="627.22" r="2.28" fill="#8f3461"/>
<circle cx="303.66" cy="629.07" r="2.3" fill="#8f3461"/>
<circle cx="306.2" cy="628.79" r="2.3" fill="#8f3461"/>
<circle cx="305.18" cy="628.14" r="2.49" fill="#8f3461"/>
<circle cx="307.48" cy="627.08" r="2.21" fill="#8f3461"/>
<circle cx="312.09" cy="628.94" r="2.41" fill="#8f3461"/>
<circle cx="316.2" cy="629.79" r="2.7" fill="#8f3461"/>
<circle cx="312.2" cy="629.83" r="2.79" fill="#8f3461"/>
<circle cx="314.31" cy="631.13" r="2.82" fill="#8f3461"/>
<circle cx="313.55" cy="628.3" r="2.73" fill="#8f3461"/>
<circle cx="312.33" cy="628.33" r="2.71" fill="#8f3461"/>
<circle cx="310.75" cy="638.7" r="2.77" fill="#8f3461"/>
<circle cx="309.29" cy="638.76" r="2.82" fill="#8f3461"/>
<circle cx="312.44" cy="637.36" r="2.66" fill="#8f3461"/>
<circle cx="310.99" cy="638.31" r="2.88" fill="#8f3461"/>
<circle cx="310.54" cy="638.14" r="2.86" fill="#8f3461"/>
<circle cx="311.08" cy="637.7" r="2.42" fill="#8f3461"/>
<circle cx="303.24" cy="642.46" r="2.79" fill="#8f3461"/>
<circle cx="305.09" cy="643.35" r="2.46" fill="#8f3461"/>
<circle cx="305.34" cy="641.97" r="2.41" fill="#8f3461"/>
<circle cx="301.07" cy="642.24" r="2.31" fill="#8f3461"/>
<circle cx="301.97" cy="642.53" r="2.74" fill="#8f3461"/>
<circle cx="304.36" cy="640.96" r="2.24" fill="#8f3461"/>
<circle cx="317.54" cy="643.25" r="2.72" fill="#8f3461"/>
<circle cx="319.13" cy="641.86" r="2.88" fill="#8f3461"/>
<circle cx="317.63" cy="643.24" r="2.73" fill="#8f3461"/>
<circle cx="319.45" cy="641.82" r="2.46" fill="#8f3461"/>
<circle cx="318.39" cy="642.76" r="2.73" fill="#8f3461"/>
<circle cx="316.62" cy="643.87" r="2.21" fill="#8f3461"/>
<rect x="396.25" y="620" width="8.25" height="26.25" fill="#c4122f"/>
<line x1="400.38" y1="614.25" x2="400.38" y2="620.3" stroke="#231f20" stroke-width="0.9"/>
<line x1="398.88" y1="614.25" x2="401.88" y2="614.25" stroke="#231f20" stroke-width="0.9"/>
<rect x="405.75" y="579.25" width="8.5" height="67" fill="#134f82"/>
<line x1="410" y1="567" x2="410" y2="579.55" stroke="#231f20" stroke-width="0.9"/>
<line x1="408.5" y1="567" x2="411.5" y2="567" stroke="#231f20" stroke-width="0.9"/>
<rect x="423" y="631.75" width="8.25" height="14.5" fill="#c4122f"/>
<line x1="427.12" y1="626.25" x2="427.12" y2="632.05" stroke="#231f20" stroke-width="0.9"/>
<line x1="425.62" y1="626.25" x2="428.62" y2="626.25" stroke="#231f20" stroke-width="0.9"/>
<rect x="432.5" y="591.25" width="8.75" height="55" fill="#134f82"/>
<line x1="436.88" y1="578" x2="436.88" y2="591.55" stroke="#231f20" stroke-width="0.9"/>
<line x1="435.38" y1="578" x2="438.38" y2="578" stroke="#231f20" stroke-width="0.9"/>
<rect x="449.5" y="614.2" width="8.7" height="32.05" fill="#c4122f"/>
<line x1="453.85" y1="596.75" x2="453.85" y2="614.5" stroke="#231f20" stroke-width="0.9"/>
<line x1="452.35" y1="596.75" x2="455.35" y2="596.75" stroke="#231f20" stroke-width="0.9"/>
<rect x="459.5" y="622.4" width="8.5" height="23.85" fill="#134f82"/>
<line x1="463.75" y1="612.6" x2="463.75" y2="622.7" stroke="#231f20" stroke-width="0.9"/>
<line x1="462.25" y1="612.6" x2="465.25" y2="612.6" stroke="#231f20" stroke-width="0.9"/>
<rect x="476.5" y="636.2" width="8.5" height="10.05" fill="#c4122f"/>
<line x1="480.75" y1="630.8" x2="480.75" y2="636.5" stroke="#231f20" stroke-width="0.9"/>
<line x1="479.25" y1="630.8" x2="482.25" y2="630.8" stroke="#231f20" stroke-width="0.9"/>
<rect x="486.2" y="626.9" width="8.4" height="19.35" fill="#134f82"/>
<line x1="490.4" y1="615.4" x2="490.4" y2="627.2" stroke="#231f20" stroke-width="0.9"/>
<line x1="488.9" y1="615.4" x2="491.9" y2="615.4" stroke="#231f20" stroke-width="0.9"/>
<line x1="402" y1="564.5" x2="411.25" y2="564.5" stroke="#231f20" stroke-width="0.9"/>
<line x1="430" y1="575.6" x2="439.5" y2="575.6" stroke="#231f20" stroke-width="0.9"/>
<text x="406.4" y="564" font-size="7" text-anchor="middle">*</text>
<text x="434.6" y="575.5" font-size="7" text-anchor="middle">*</text>
<line x1="391.1" y1="533.2" x2="391.1" y2="646.9" stroke="#231f20" stroke-width="1.3"/>
<line x1="390.5" y1="646.25" x2="501" y2="646.25" stroke="#231f20" stroke-width="1.3"/>
<line x1="387.7" y1="646.25" x2="391.1" y2="646.25" stroke="#231f20" stroke-width="1"/>
<text x="384.8" y="649.4" font-size="8" text-anchor="end" textLength="11.12" lengthAdjust="spacingAndGlyphs">0.0</text>
<line x1="387.7" y1="619.05" x2="391.1" y2="619.05" stroke="#231f20" stroke-width="1"/>
<text x="384.8" y="622.2" font-size="8" text-anchor="end" textLength="11.12" lengthAdjust="spacingAndGlyphs">2.0</text>
<line x1="387.7" y1="591.85" x2="391.1" y2="591.85" stroke="#231f20" stroke-width="1"/>
<text x="384.8" y="595" font-size="8" text-anchor="end" textLength="11.12" lengthAdjust="spacingAndGlyphs">4.0</text>
<line x1="387.7" y1="564.65" x2="391.1" y2="564.65" stroke="#231f20" stroke-width="1"/>
<text x="384.8" y="567.8" font-size="8" text-anchor="end" textLength="11.12" lengthAdjust="spacingAndGlyphs">6.0</text>
<line x1="387.7" y1="537.45" x2="391.1" y2="537.45" stroke="#231f20" stroke-width="1"/>
<text x="384.8" y="540.6" font-size="8" text-anchor="end" textLength="11.12" lengthAdjust="spacingAndGlyphs">8.0</text>
<rect x="456.3" y="542" width="10.9" height="8.6" fill="#c4122f"/>
<rect x="456.3" y="554.6" width="10.9" height="8.1" fill="#134f82"/>
<text x="470.7" y="548.6" font-size="8" textLength="12.1" lengthAdjust="spacingAndGlyphs">Ctrl</text>
<text x="470.7" y="561" font-size="8" textLength="11.3" lengthAdjust="spacingAndGlyphs">KO</text>
<text transform="translate(368 589.5) rotate(-90)" font-size="8.6" text-anchor="middle" textLength="68" lengthAdjust="spacingAndGlyphs">Nuclear/cytoplasmic</text>
<text x="408.3" y="653.6" font-size="7.9" text-anchor="end" transform="rotate(-45 408.3 653.6)">MPL</text>
<text x="437.9" y="653.6" font-size="7.9" text-anchor="end" transform="rotate(-45 437.9 653.6)">ITGA2B</text>
<text x="464.5" y="653.6" font-size="7.9" text-anchor="end" transform="rotate(-45 464.5 653.6)">ITGB3</text>
<text x="489.8" y="653.6" font-size="7.9" text-anchor="end" transform="rotate(-45 489.8 653.6)">HPRT</text></svg></body></html>
